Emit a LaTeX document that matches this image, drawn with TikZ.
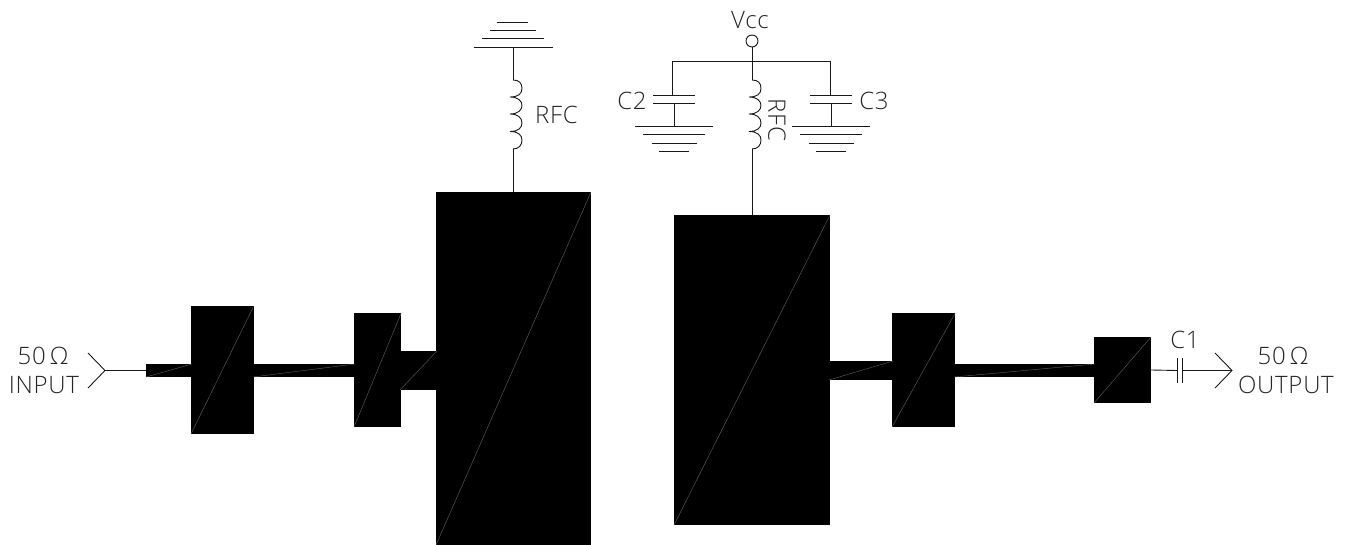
\documentclass[tikz,border=0pt]{standalone}
\usepackage{fontspec}
\setmainfont[LetterSpace=3]{Open Sans Light}
\tikzset{
  x=1pt,y=-1pt,
  wire/.style={line width=0.9pt,black!90},
  blockbox/.style={fill=black,draw=none,inner sep=0pt,outer sep=0pt,rectangle},
  diagline/.style={line width=0.4pt,black!62!white},
  lbl/.style={inner sep=0pt,outer sep=0pt,text=black!85,font=\fontsize{24}{26}\selectfont},
  dot/.style={circle,draw=black!90,line width=0.9pt,fill=white,minimum size=12pt,inner sep=0pt,outer sep=0pt},
  pics/coil/.style={code={
    \draw[wire] (0,0) .. controls (6,0) and (9,3) .. (9,8.5)
      .. controls (9,14) and (5,17) .. (-3,17)
      .. controls (5,17) and (9,21) .. (9,25.5)
      .. controls (9,30) and (5,34) .. (-3,34)
      .. controls (5,34) and (9,38) .. (9,43)
      .. controls (9,48) and (5,51.5) .. (-3,51.5)
      .. controls (5,51.5) and (9,55) .. (9,60)
      .. controls (9,65) and (6,69) .. (0,69);
  }},
  pics/earth/.style={code={
    \draw[wire] (-39,0) -- (39,0) (-31,8.5) -- (31,8.5) (-22.5,17) -- (22.5,17) (-15,25) -- (15,25);
  }},
  pics/earthup/.style={code={
    \draw[wire] (-39.5,0) -- (39.5,0) (-31,-9) -- (31,-9) (-23,-17) -- (23,-17) (-16,-25) -- (15,-25);
  }}
}
\newcommand{\blockat}[5]{%
  \node[blockbox,minimum width={(#4-#2)*1pt},minimum height={(#5-#3)*1pt}] (#1) at ({(#2+#4)/2},{(#3+#5)/2}) {};
}
\begin{document}
\begin{tikzpicture}
\useasboundingbox (0,0) rectangle (1352,545);
% stubs and lines
\blockat{sA}{146}{364}{192}{377}
\blockat{sB}{253}{364}{355}{377}
\blockat{sC}{400}{351}{437}{390}
\blockat{sD}{829}{361}{893}{380}
\blockat{sE}{954}{364}{1095}{377}
% blocks
\blockat{bA}{191}{306.5}{253.5}{434}
\blockat{bB}{354}{313.5}{401}{427}
\blockat{bC}{436}{192}{591}{545}
\blockat{bD}{674}{215}{830}{525}
\blockat{bE}{892}{313.5}{955}{427}
\blockat{bF}{1094}{337}{1151}{403}
% diagonals
\foreach \n in {sA,sB,sC,sD,sE,bA,bB,bC,bD,bE,bF}{
  \draw[diagline] (\n.south west) -- (\n.north east);
}
% input
\coordinate (inTip) at (105,370.5);
\coordinate (inU) at (88,353);
\coordinate (inD) at (88,388);
\draw[wire] (inU) -- (inTip) -- (inD);
\draw[wire] (inTip) -- (sA.west);
\node[lbl] (t50a) at (43,356) {50\,Ω};
\node[lbl] (tin) at (44,385) {INPUT};
% output
\coordinate (cOut) at (bF.east);
\coordinate (pL) at (1177,370.5);
\coordinate (pR) at (1182,370.5);
\coordinate (outTip) at (1232,370.5);
\coordinate (outU) at (1215,353);
\coordinate (outD) at (1215,388);
\draw[wire] (cOut) -- (pL);
\draw[wire] (pR) -- (outTip);
\draw[wire] (outU) -- (outTip) -- (outD);
\draw[wire] (1177,357.5) -- (1177,383) (1182,357.5) -- (1182,383);
\node[lbl] (tc1) at (1185,340) {C1};
\node[lbl] (t50b) at (1283,356) {50\,Ω};
\node[lbl] (tout) at (1286,385) {OUTPUT};
% left RFC
\coordinate (gA) at (513,47);
\coordinate (cAt) at (513,80);
\coordinate (cAb) at (513,149);
\pic at (gA) {earthup};
\draw[wire] (gA) -- (cAt);
\pic at (cAt) {coil};
\draw[wire] (cAb) -- (513,192);
\node[lbl] (trfcA) at (556.5,115) {RFC};
% Vcc
\node[lbl] (tvcc) at (750,20) {Vcc};
\node[dot] (vcc) at (752,41) {};
\coordinate (j) at (752,61);
\coordinate (jL) at (672,61);
\coordinate (jR) at (830,61);
\coordinate (cBt) at (752,80);
\coordinate (cBb) at (752,149);
\draw[wire] (vcc) -- (cBt);
\draw[wire] (jL) -- (jR);
\pic at (cBt) {coil};
\draw[wire] (cBb) -- (752,215);
\node[lbl,rotate=-90] (trfcB) at (777,120) {RFC};
% C2
\coordinate (c2a) at (672,95);
\coordinate (c2b) at (674,103.5);
\coordinate (g2) at (674,126);
\draw[wire] (jL) -- (c2a);
\draw[wire] (653,95) -- (695,95) (653,103.5) -- (695,103.5);
\draw[wire] (c2b) -- (g2);
\pic at (g2) {earth};
\node[lbl] (tc2) at (632,101) {C2};
% C3
\coordinate (c3a) at (830,95);
\coordinate (c3b) at (831,103.5);
\coordinate (g3) at (831,126);
\draw[wire] (jR) -- (c3a);
\draw[wire] (810,95) -- (852,95) (810,103.5) -- (852,103.5);
\draw[wire] (c3b) -- (g3);
\pic at (g3) {earth};
\node[lbl] (tc3) at (874,101) {C3};
\end{tikzpicture}
\end{document}
